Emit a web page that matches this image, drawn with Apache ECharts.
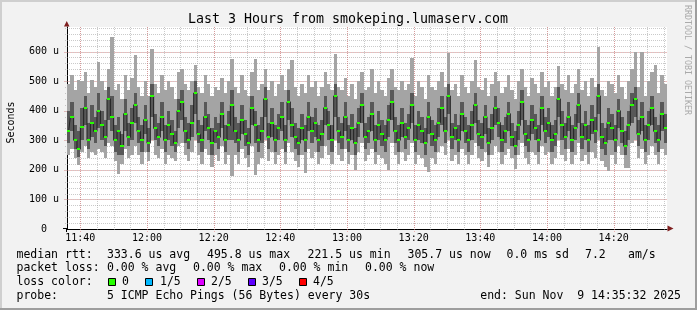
<!DOCTYPE html>
<html><head><meta charset="utf-8">
<script src="https://cdn.jsdelivr.net/npm/echarts@6/dist/echarts.min.js"></script>
<style>html,body{margin:0;padding:0;background:#f2f2f2}#c{width:697px;height:310px}</style>
</head><body><div id="c"></div>
<script>
// ---- data (minutes since midnight, values in microseconds) ----
const chartTitle = 'Last 3 Hours from smokeping.lumaserv.com';
const startMinute = 696;   // 11:36
const endMinute = 876;     // 14:36
const stepMinutes = 1;
const yMax = 683;

const lo = [250,270,240,215,260,280,240,260,250,270, 260,240,290,280,230,185,220,270,240,250,
 280,250,220,260,230,300,250,240,270,220, 250,240,230,280,290,250,230,260,300,250,
 220,270,250,210,250,230,280,220,250,178, 250,220,270,240,210,280,184,220,240,300,
 230,260,220,250,270,220,290,260,230,210, 250,191,270,240,260,220,240,280,250,220,
 300,250,230,270,220,250,198,260,290,230, 250,270,220,250,240,220,199,290,250,220,
 260,230,250,290,220,250,240,210,192,240, 220,260,280,250,300,230,250,220,270,250,
 220,250,290,240,230,260,208,250,280,260, 220,250,270,240,203,250,290,240,220,260,
 250,220,280,250,260,220,240,300,250,230, 270,220,250,290,230,250,220,260,240,300,
 230,210,195,250,220,280,250,205,205,290, 300,240,270,220,250,280,250,220,270,250];
const q1 = [290,330,270,245,300,350,270,310,290,340, 300,280,370,330,260,250,250,330,280,300,
 360,290,260,320,260,380,300,280,330,260, 300,280,260,340,370,290,270,310,390,290,
 260,330,300,250,290,270,340,260,300,300, 290,260,320,280,250,350,290,260,290,380,
 270,310,260,300,330,260,370,310,270,250, 300,260,330,290,310,260,280,350,300,260,
 380,290,270,330,260,300,250,310,360,270, 290,330,260,300,280,260,310,370,290,260,
 310,270,300,360,260,300,290,250,320,280, 260,310,350,290,390,270,300,260,330,290,
 260,300,360,280,270,320,250,300,350,310, 260,290,330,280,250,300,370,280,260,320,
 300,260,350,290,310,260,280,380,300,270, 330,260,300,360,270,300,260,320,290,390,
 270,250,300,300,260,340,290,250,300,360, 380,280,330,260,300,350,290,260,330,290];
const med = [330,380,300,270,345,410,300,360,330,400, 350,310,440,380,300,330,280,390,310,360,
 420,330,300,370,290,450,340,310,380,300, 350,320,290,400,430,330,300,360,460,320,
 300,380,340,290,330,310,390,300,350,420, 330,300,370,320,290,410,350,300,330,440,
 310,360,300,340,380,300,430,350,310,290, 340,300,380,330,360,300,320,410,350,300,
 450,330,310,380,300,340,290,360,420,310, 330,390,300,350,320,300,370,430,330,300,
 360,310,340,420,300,350,330,290,380,320, 300,360,410,330,450,310,340,300,390,330,
 300,350,420,320,310,380,290,340,410,360, 300,330,390,310,280,350,430,320,300,370,
 340,300,410,330,360,300,320,440,350,310, 380,300,340,420,310,350,300,370,330,450,
 310,290,360,340,300,400,330,280,350,420, 440,320,380,300,350,410,330,300,390,340];
const q3 = [400,430,350,330,410,450,360,420,380,460, 400,370,480,450,350,380,320,440,360,410,
 460,380,350,420,340,490,390,360,430,350, 400,370,330,440,470,380,360,420,500,370,
 350,430,390,340,380,360,430,350,400,470, 380,360,420,370,340,450,400,350,380,480,
 360,410,350,390,430,350,470,410,360,340, 390,350,430,380,410,350,370,450,400,350,
 490,380,360,430,350,390,340,410,460,360, 380,430,350,400,370,350,420,470,380,350,
 410,360,390,460,350,400,380,340,430,370, 350,410,450,380,490,360,390,350,430,380,
 350,400,460,370,360,420,340,390,450,410, 350,380,430,360,330,400,470,370,350,420,
 390,350,450,380,410,350,370,480,400,360, 430,350,390,460,360,400,350,420,380,490,
 360,340,410,390,350,440,380,330,400,460, 480,370,430,350,400,450,380,350,430,390];
const hi = [490,520,470,503,500,530,460,503,480,565, 500,470,540,649,470,490,440,520,470,510,
 588,480,450,500,450,608,490,460,520,470, 500,480,440,530,540,490,470,500,554,480,
 460,520,490,450,480,470,510,460,500,574, 480,460,520,470,450,530,574,470,490,540,
 470,500,450,490,520,470,540,570,480,450, 490,460,520,480,500,450,480,530,490,470,
 591,480,470,510,450,490,440,500,530,470, 480,540,460,500,470,450,510,540,480,470,
 500,470,490,577,450,500,480,440,520,480, 470,500,530,480,594,470,490,450,520,480,
 460,500,571,480,470,510,450,490,530,500, 460,480,520,470,440,500,540,480,450,510,
 490,460,530,480,500,450,480,550,490,470, 520,460,490,540,470,500,450,510,480,615,
 470,450,500,490,460,520,480,440,500,540, 600,480,597,450,500,530,554,460,520,490];

const xMajor = [700,720,740,760,780,800,820,840,860];
const xLabels = ['11:40','12:00','12:20','12:40','13:00','13:20','13:40','14:00','14:20'];
const xMinor = [700,705,710,715,720,725,730,735,740,745,750,755,760,765,770,775,780,785,790,795,
 800,805,810,815,820,825,830,835,840,845,850,855,860,865,870,875];
const yMajor = [100,200,300,400,500,600];
const yMinor = [20,40,60,80,100,120,140,160,180,200,220,240,260,280,300,320,340,360,380,400,
 420,440,460,480,500,520,540,560,580,600,620,640,660,680];

const legendRows = [
  [['median rtt:',16.5],['333.6 us avg',107],['495.8 us max',207],['221.5 us min',307.5],['305.7 us now',407.5],['0.0 ms sd',506.5],['7.2',585],['am/s',628]],
  [['packet loss:',16.5],['0.00 % avg',107],['0.00 % max',193],['0.00 % min',279],['0.00 % now',365]],
  [['loss color:',16.5],['0',122],['1/5',160],['2/5',211],['3/5',262],['4/5',313]],
  [['probe:',16.5],['5 ICMP Echo Pings (56 Bytes) every 30s',107]]
];
const legendRowY = [254.6, 268.4, 282.2, 296.3];
const lossColors = ['#26ff00','#00b8ff','#dd00ff','#5e00ff','#ff0000'];
const lossSquareX = [108.5,145.5,197.5,248.5,299.5];
const endText = 'end: Sun Nov  9 14:35:32 2025';

// ---- chart ----
const MONO = '"DejaVu Sans Mono", monospace';
const chart = echarts.init(document.getElementById('c'), null, {renderer:'canvas', width:697, height:310});

const smokeData = med.map((m,i)=>[startMinute+i*stepMinutes, lo[i], q1[i], q3[i], hi[i]]);
const medData = med.map((m,i)=>[startMinute+i*stepMinutes, m]);
const medLine = med.map((m,i)=>[startMinute+(i+0.5)*stepMinutes, m]);

function rectBetween(api, x0, x1, v0, v1){
  const a = api.coord([x0, v1]), b = api.coord([x1, v0]);
  const xa = Math.round(a[0]), xb = Math.round(b[0]);
  const ya = Math.round(a[1]), yb = Math.round(b[1]);
  return {x: xa, y: ya, width: xb-xa, height: Math.max(1, yb-ya)};
}
function vGrid(color, ext){
  return function(params, api){
    const p = api.coord([api.value(0), 0]);
    const cs = params.coordSys;
    const x = Math.round(p[0]) + 0.5;
    return {type:'line', silent:true, shape:{x1:x, y1:cs.y, x2:x, y2:cs.y+cs.height+ext},
      style:{stroke:color, lineWidth:1, lineDash:[1,1]}};
  };
}
function hGrid(color, ext){
  return function(params, api){
    const p = api.coord([startMinute, api.value(1)]);
    const cs = params.coordSys;
    const y = Math.round(p[1]) + 0.5;
    return {type:'line', silent:true, shape:{x1:cs.x-ext, y1:y, x2:cs.x+cs.width, y2:y},
      style:{stroke:color, lineWidth:1, lineDash:[1,1]}};
  };
}

const graphics = [
  {type:'rect', shape:{x:0,y:0,width:697,height:2}, style:{fill:'#cfcfcf'}, silent:true},
  {type:'rect', shape:{x:0,y:0,width:2,height:310}, style:{fill:'#cfcfcf'}, silent:true},
  {type:'rect', shape:{x:0,y:308,width:697,height:2}, style:{fill:'#9e9e9e'}, silent:true},
  {type:'rect', shape:{x:695,y:0,width:2,height:310}, style:{fill:'#9e9e9e'}, silent:true},
  {type:'text', x:348, y:19.5, style:{text:chartTitle, font:'13.3px '+MONO, fill:'#000', align:'center', verticalAlign:'middle'}},
  {type:'text', x:11, y:122.5, rotation:Math.PI/2, style:{text:'Seconds', font:'10px '+MONO, fill:'#000', align:'center', verticalAlign:'middle'}},
  {type:'text', x:687, y:60, rotation:-Math.PI/2, style:{text:'RRDTOOL / TOBI OETIKER', font:'8.3px '+MONO, fill:'#aaaaaa', align:'center', verticalAlign:'middle'}},
  // axis extensions and arrows
  {type:'line', shape:{x1:63,y1:228.5,x2:67,y2:228.5}, style:{stroke:'#000',lineWidth:1}, silent:true},
  {type:'line', shape:{x1:66.5,y1:229,x2:66.5,y2:232}, style:{stroke:'#000',lineWidth:1}, silent:true},
  {type:'polygon', shape:{points:[[64,26.5],[69.5,26.5],[66.75,21]]}, style:{fill:'#7f1f1f'}, silent:true, z:10},
  {type:'polygon', shape:{points:[[667.5,225.5],[667.5,231.5],[673.5,228.5]]}, style:{fill:'#7f1f1f'}, silent:true, z:10},
  {type:'text', x:681, y:legendRowY[3], style:{text:endText, font:'11.5px '+MONO, fill:'#000', align:'right', verticalAlign:'middle'}}
];
legendRows.forEach((row, r)=>{
  row.forEach(([t,x])=>{
    graphics.push({type:'text', x:x, y:legendRowY[r], style:{text:t, font:'11.5px '+MONO, fill:'#000', align:'left', verticalAlign:'middle'}});
  });
});
lossColors.forEach((c,i)=>{
  graphics.push({type:'rect', shape:{x:lossSquareX[i], y:278.5, width:7, height:7}, style:{fill:c, stroke:'#000', lineWidth:1}, silent:true});
});

chart.setOption({
  animation:false,
  backgroundColor:'#f2f2f2',
  grid:{left:67, right:30, top:27, height:202, show:true, backgroundColor:'#ffffff', borderWidth:0},
  xAxis:{type:'value', min:startMinute, max:endMinute, interval:4,
    axisLine:{show:true, onZero:false, lineStyle:{color:'#000', width:1}},
    axisTick:{show:false}, splitLine:{show:false},
    axisLabel:{show:true, interval:0, margin:4, color:'#000', fontFamily:'DejaVu Sans Mono', fontSize:10,
      showMinLabel:false, showMaxLabel:false,
      formatter:(v)=>{const k = xMajor.indexOf(v); return k>=0 ? xLabels[k] : '';}}},
  yAxis:{type:'value', min:0, max:yMax, interval:100,
    axisLine:{show:true, onZero:false, lineStyle:{color:'#000', width:1}},
    axisTick:{show:false}, splitLine:{show:false},
    axisLabel:{show:true, margin:8, color:'#000', fontFamily:'DejaVu Sans Mono', fontSize:10,
      formatter:(v)=> v===0 ? '0  ' : (yMajor.indexOf(v)>=0 ? v+' u' : '')}},
  graphic:graphics,
  series:[
    {type:'custom', silent:true, z:1, data:xMinor.map(v=>[v,0]), encode:{x:0,y:1}, renderItem:vGrid('rgba(150,150,150,0.5)',2)},
    {type:'custom', silent:true, z:1, data:yMinor.map(v=>[startMinute,v]), encode:{x:0,y:1}, renderItem:hGrid('rgba(150,150,150,0.5)',2)},
    {type:'custom', silent:true, z:1, data:xMajor.map(v=>[v,0]), encode:{x:0,y:1}, renderItem:vGrid('rgba(230,90,90,0.42)',3)},
    {type:'custom', silent:true, z:1, data:yMajor.map(v=>[startMinute,v]), encode:{x:0,y:1}, renderItem:hGrid('rgba(230,90,90,0.42)',3)},
    {type:'custom', silent:true, z:2, data:smokeData, encode:{x:0,y:[1,2,3,4]},
      renderItem:(params, api)=>{
        const x0 = api.value(0), x1 = x0 + stepMinutes;
        return {type:'group', children:[
          {type:'rect', shape:rectBetween(api,x0,x1,api.value(1),api.value(4)), style:{fill:'#a4a4a4'}},
          {type:'rect', shape:rectBetween(api,x0,x1,api.value(2),api.value(3)), style:{fill:'#585858'}}
        ]};
      }},
    {type:'line', silent:true, z:3, data:medLine, step:'middle', showSymbol:false, symbol:'none',
      lineStyle:{color:'#202020', width:1}},
    {type:'custom', silent:true, z:4, data:medData, encode:{x:0,y:1},
      renderItem:(params, api)=>{
        const x0 = api.value(0);
        const a = api.coord([x0, api.value(1)]), b = api.coord([x0+stepMinutes, api.value(1)]);
        const xa = Math.round(a[0]), xb = Math.round(b[0]);
        return {type:'rect', shape:{x:xa, y:Math.round(a[1])-1, width:xb-xa, height:2}, style:{fill:lossColors[0]}};
      }}
  ]
});
</script></body></html>
